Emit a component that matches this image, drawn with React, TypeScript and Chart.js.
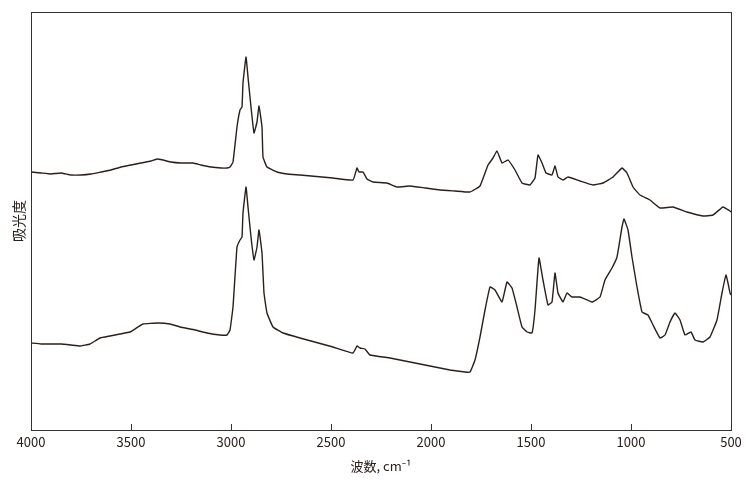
import React, { useEffect, useRef } from "react";
import { Chart, registerables } from "chart.js";

Chart.register(...registerables);

// Upper spectrum (arbitrary absorbance units, offset)
const upperWavenumber = [
  4000, 3950, 3900, 3850, 3800, 3750, 3700, 3650, 3600, 3550, 3500, 3450, 3400, 3365, 3300, 3250,
  3190, 3150, 3100, 3050, 3020, 3005, 2990, 2970, 2955, 2945, 2940, 2925, 2915, 2900, 2885, 2870,
  2860, 2845, 2840, 2820, 2770, 2720, 2655, 2490, 2390, 2370, 2360, 2340, 2320, 2290, 2220, 2170,
  2105, 2030, 1955, 1880, 1805, 1755, 1715, 1690, 1670, 1645, 1615, 1580, 1545, 1505, 1480, 1465,
  1445, 1425, 1395, 1380, 1365, 1340, 1315, 1255, 1190, 1140, 1090, 1045, 1020, 990, 955, 905,
  855, 790, 720, 640, 590, 540, 505, 500,
];
const upperAbsorbance = [
  258, 257, 256, 257, 255, 255, 256, 258, 260, 263, 265, 267, 269, 271, 268, 267,
  267, 265, 263, 262, 262, 263, 268, 303, 320, 323, 347, 373, 353, 323, 297, 308,
  324, 303, 273, 263, 258, 256, 255, 252, 250, 262, 258, 258, 251, 248, 247, 243,
  244, 242, 240, 239, 238, 244, 265, 272, 279, 267, 270, 260, 247, 245, 252, 275,
  267, 257, 255, 264, 253, 250, 253, 249, 245, 247, 253, 262, 257, 243, 235, 230,
  222, 223, 218, 214, 215, 223, 219, 218,
];

// Lower spectrum
const lowerWavenumber = [
  4000, 3950, 3900, 3850, 3800, 3755, 3705, 3655, 3605, 3555, 3505, 3440, 3365, 3305, 3255, 3180,
  3120, 3055, 3020, 3005, 2990, 2970, 2955, 2945, 2940, 2925, 2915, 2900, 2885, 2870, 2860, 2845,
  2835, 2820, 2790, 2740, 2655, 2490, 2390, 2370, 2355, 2330, 2305, 2205, 2105, 2005, 1905, 1830,
  1805, 1780, 1755, 1730, 1705, 1680, 1645, 1620, 1595, 1570, 1545, 1520, 1495, 1480, 1460, 1440,
  1415, 1395, 1380, 1365, 1340, 1320, 1295, 1255, 1195, 1155, 1130, 1095, 1070, 1045, 1035, 1015,
  995, 970, 945, 915, 890, 855, 830, 805, 780, 755, 730, 700, 680, 640, 605, 570,
  545, 525, 515, 505, 500,
];
const lowerAbsorbance = [
  87, 86, 86, 86, 85, 84, 86, 92, 94, 96, 98, 106, 107, 106, 103, 100,
  97, 95, 95, 100, 123, 183, 190, 193, 217, 243, 223, 193, 170, 183, 200, 177,
  137, 117, 103, 97, 92, 83, 77, 84, 82, 81, 75, 72, 68, 64, 60, 58,
  58, 70, 93, 120, 143, 140, 128, 148, 142, 123, 103, 98, 97, 120, 172, 150,
  125, 128, 157, 137, 128, 137, 133, 133, 128, 133, 150, 162, 173, 203, 211, 200,
  173, 143, 118, 115, 105, 92, 95, 108, 117, 110, 95, 98, 90, 88, 93, 110,
  137, 155, 147, 137, 135,
];

const xTickMin = 500;
const xTickMax = 4000;
const xTickStep = 500;

const INK = "#2a201b";
const FONT = "'Noto Sans CJK JP', 'Noto Sans', sans-serif";

const frame = {
  id: "frame",
  afterDraw(chart: any) {
    const { ctx, chartArea } = chart;
    ctx.save();
    ctx.strokeStyle = "#333333";
    ctx.lineWidth = 1;
    ctx.strokeRect(chartArea.left + 0.5, chartArea.top + 0.5, chartArea.right - chartArea.left, chartArea.bottom - chartArea.top);
    ctx.restore();
  },
};

export default function App() {
  const ref = useRef<HTMLCanvasElement | null>(null);
  useEffect(() => {
    document.body.style.margin = "0";
    const toPts = (xs: number[], ys: number[]) => xs.map((x, i) => ({ x, y: ys[i] }));
    const chart = new Chart(ref.current as HTMLCanvasElement, {
      type: "line",
      data: {
        datasets: [
          { data: toPts(upperWavenumber, upperAbsorbance), borderColor: INK, borderWidth: 1.4, pointRadius: 0, tension: 0.1, fill: false },
          { data: toPts(lowerWavenumber, lowerAbsorbance), borderColor: INK, borderWidth: 1.4, pointRadius: 0, tension: 0.1, fill: false },
        ],
      },
      options: {
        animation: false,
        responsive: false,
        maintainAspectRatio: false,
        layout: { padding: { left: 0, right: 15, top: 12, bottom: 0 } },
        plugins: { legend: { display: false }, tooltip: { enabled: false } },
        scales: {
          x: {
            type: "linear",
            reverse: true,
            min: xTickMin,
            max: xTickMax,
            afterFit: (s: any) => { s.height = 56; s.paddingLeft = 0; s.paddingRight = 0; },
            ticks: {
              stepSize: xTickStep,
              color: INK,
              font: { family: FONT, size: 13 },
              padding: 10,
              maxRotation: 0,
              callback: (v: any) => String(v),
            },
            grid: { drawOnChartArea: false, drawTicks: true, tickLength: -6, color: "#333333" },
            border: { display: true, color: "#333333" },
            title: { display: true, text: "波数, cm⁻¹", color: INK, font: { family: FONT, size: 13 }, padding: { top: 0, bottom: 12 } },
          },
          y: {
            min: 0,
            max: 418,
            afterFit: (s: any) => { s.width = 31; },
            ticks: { display: false },
            grid: { display: false },
            border: { display: true, color: "#333333" },
            title: { display: true, text: "吸光度", color: INK, font: { family: FONT, size: 14 }, padding: { top: 10, bottom: 0 } },
          },
        },
      },
      plugins: [frame],
    });
    return () => chart.destroy();
  }, []);
  return <canvas ref={ref} width={746} height={486} style={{ display: "block" }} />;
}
